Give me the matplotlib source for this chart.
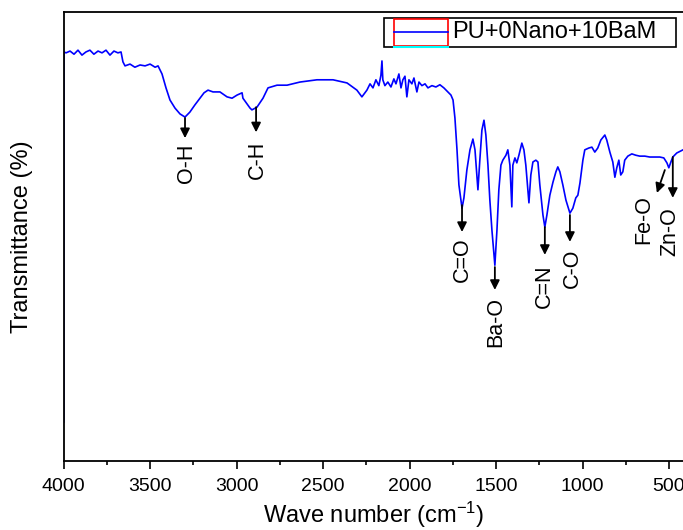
import matplotlib
matplotlib.use("Agg")
import matplotlib.pyplot as plt
from matplotlib.patches import Rectangle
from matplotlib.lines import Line2D
from matplotlib.ticker import MultipleLocator

plt.rcParams['font.family'] = ['Liberation Sans', 'DejaVu Sans']
plt.rcParams['mathtext.fontset'] = 'custom'
plt.rcParams['mathtext.rm'] = 'Liberation Sans'
plt.rcParams['mathtext.it'] = 'Liberation Sans'

# spectrum: wavenumber (cm-1) and transmittance (a.u.)
wavenumber = [4000, 3999, 3987, 3964, 3941, 3918, 3895, 3872, 3849, 3826, 3802, 3779,
              3756, 3733, 3710, 3687, 3669, 3658, 3646, 3617, 3589, 3559, 3530, 3501,
              3472, 3455, 3432, 3409, 3386, 3357, 3328, 3299, 3271, 3242, 3213, 3189,
              3166, 3137, 3097, 3056, 3027, 2998, 2969, 2964, 2923, 2912, 2883, 2848,
              2819, 2767, 2709, 2634, 2536, 2443, 2362, 2305, 2276, 2247, 2229, 2212,
              2195, 2178, 2166, 2160, 2155, 2143, 2126, 2108, 2091, 2079, 2062, 2050,
              2039, 2027, 2016, 2004, 1987, 1975, 1958, 1946, 1929, 1911, 1894, 1871,
              1848, 1825, 1802, 1779, 1761, 1749, 1738, 1726, 1715, 1697, 1686, 1669,
              1651, 1634, 1622, 1611, 1605, 1594, 1582, 1570, 1559, 1547, 1536, 1524,
              1507, 1495, 1484, 1472, 1461, 1443, 1432, 1420, 1409, 1403, 1391, 1380,
              1368, 1351, 1339, 1328, 1310, 1299, 1287, 1270, 1258, 1247, 1229, 1218,
              1206, 1189, 1171, 1154, 1143, 1131, 1114, 1096, 1073, 1056, 1039, 1027,
              1015, 998, 987, 964, 946, 929, 912, 894, 871, 860, 842, 825,
              813, 802, 790, 779, 767, 756, 738, 715, 692, 669, 640, 611,
              582, 553, 530, 512, 501, 489, 478, 455, 419]
transmittance = [8.7, 91.1, 90.9, 91.3, 90.6, 91.5, 90.4, 91.1, 91.5, 90.6, 91.3, 90.9,
                 91.5, 90.4, 91.3, 90.9, 91.1, 88.9, 88.0, 88.4, 87.7, 88.2, 88.0, 88.4,
                 87.7, 88.0, 86.2, 83.1, 80.4, 78.6, 77.3, 76.6, 77.7, 79.3, 80.8, 82.0,
                 82.6, 82.2, 82.2, 81.1, 80.8, 81.5, 82.0, 80.8, 78.6, 78.2, 78.8, 80.8,
                 83.1, 83.7, 83.7, 84.4, 84.9, 84.9, 84.2, 82.6, 81.1, 82.6, 84.0, 83.1,
                 84.9, 83.6, 85.9, 89.1, 84.9, 83.6, 84.4, 83.3, 85.1, 84.0, 86.2, 83.1,
                 84.9, 85.7, 81.1, 84.9, 84.0, 85.3, 82.2, 84.4, 83.6, 84.0, 83.1, 83.6,
                 83.3, 83.8, 83.1, 82.2, 81.5, 80.4, 76.4, 69.3, 61.5, 56.3, 58.6, 64.8,
                 69.3, 71.7, 69.3, 63.7, 60.4, 67.0, 73.7, 75.9, 72.6, 65.9, 58.1, 51.4,
                 43.6, 51.4, 60.4, 65.9, 67.0, 68.1, 69.3, 65.9, 56.6, 65.9, 67.5, 66.4,
                 68.1, 70.8, 69.3, 65.9, 57.5, 63.7, 66.6, 67.0, 66.6, 61.5, 54.8, 52.1,
                 54.8, 59.2, 62.1, 64.4, 65.5, 64.4, 61.5, 58.1, 55.2, 56.3, 58.6, 59.2,
                 61.9, 67.0, 69.3, 69.7, 69.9, 68.8, 69.7, 71.5, 72.6, 71.5, 68.8, 66.6,
                 63.2, 65.3, 67.0, 63.7, 64.4, 67.0, 67.9, 68.4, 68.1, 67.9, 67.9, 67.7,
                 67.7, 67.7, 67.5, 66.4, 65.3, 66.6, 67.7, 68.6, 69.3]

# band assignments: arrow tail/head and label position
band_labels = ['O-H', 'C-H', 'C=O', 'Ba-O', 'C=N', 'C-O', 'Fe-O', 'Zn-O']
arrow_from_x = [3299, 2888, 1697, 1507, 1218, 1073, 524, 478]
arrow_from_y = [76.4, 78.8, 57.0, 43.2, 52.1, 54.8, 64.8, 67.7]
arrow_to_x = [3299, 2888, 1697, 1507, 1218, 1073, 570, 478]
arrow_to_y = [71.9, 73.2, 51.0, 38.1, 45.9, 48.8, 59.7, 58.6]
label_x = [3293, 2883, 1697, 1501, 1218, 1061, 645, 495]
label_y = [66.4, 67.0, 44.8, 31.0, 39.0, 43.0, 53.7, 51.0]

legend_text = 'PU+0Nano+10BaM'

W, H = 683, 530
fig = plt.figure(figsize=(W / 100, H / 100), dpi=100)
ax = fig.add_axes([63.8 / W, 1 - 461 / H, 1 - 63.8 / W, (461 - 12) / H])

ax.plot(wavenumber, transmittance, color='#0000ff', lw=1.2)

for i in range(len(band_labels)):
    ax.annotate('', xy=(arrow_to_x[i], arrow_to_y[i]),
                xytext=(arrow_from_x[i], arrow_from_y[i]),
                arrowprops=dict(arrowstyle='-|>', color='black', lw=1.3,
                                shrinkA=0, shrinkB=0, mutation_scale=14))
    ax.text(label_x[i], label_y[i], band_labels[i], rotation=90,
            ha='center', va='center', fontsize=15.5)

ax.set_xlim(4000, 419)
ax.set_ylim(0, 100)
ax.xaxis.set_major_locator(MultipleLocator(500))
ax.xaxis.set_minor_locator(MultipleLocator(250))
ax.tick_params(axis='x', which='major', direction='out', length=6, width=1.2,
               labelsize=14, pad=6)
ax.tick_params(axis='x', which='minor', direction='out', length=3, width=1.2)
ax.tick_params(axis='y', which='both', left=False, labelleft=False)
ax.spines['right'].set_visible(False)
for s in ['top', 'bottom', 'left']:
    ax.spines[s].set_linewidth(1.3)

ax.set_xlabel('Wave number (cm$^{-1}$)', fontsize=17, labelpad=4)
ax.set_ylabel('Transmittance (%)', fontsize=17, labelpad=22)


def fx(px):
    return px / W


def fy(py):
    return 1 - py / H


# Origin-style legend box
fig.patches.append(Rectangle((fx(384), fy(47)), fx(676) - fx(384), fy(18) - fy(47),
                             transform=fig.transFigure, fill=True, facecolor='white',
                             edgecolor='black', lw=1.2, zorder=5))
fig.patches.append(Rectangle((fx(394), fy(46)), fx(448) - fx(394), fy(19) - fy(46),
                             transform=fig.transFigure, fill=False,
                             edgecolor='red', lw=1.2, zorder=6))
fig.lines.append(Line2D([fx(394), fx(448)], [fy(32), fy(32)], transform=fig.transFigure,
                        color='#0000ff', lw=1.2, zorder=7))
fig.lines.append(Line2D([fx(394), fx(448)], [fy(47), fy(47)], transform=fig.transFigure,
                        color='cyan', lw=1.5, zorder=7))
fig.text(fx(452), fy(32), legend_text, ha='left', va='center', fontsize=17, zorder=8)

fig.savefig('out.png', dpi=100)
